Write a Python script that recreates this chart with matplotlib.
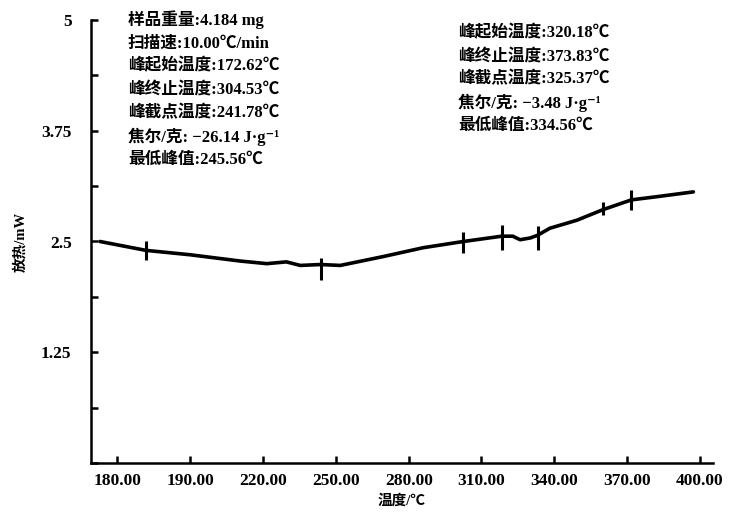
import matplotlib.pyplot as plt
from matplotlib.ticker import FixedLocator, MultipleLocator

plt.rcParams["font.family"] = ["Liberation Serif", "Noto Sans CJK SC", "DejaVu Sans"]

# x is the position along the (evenly spaced) temperature axis, one unit per labelled tick
x_labels = ["180.00", "190.00", "220.00", "250.00", "280.00", "310.00", "340.00", "370.00", "400.00"]
y_ticks = [1.25, 2.5, 3.75, 5]
y_tick_labels = ["1.25", "2.5", "3.75", "5"]

curve_x = [-0.24, 0.39, 1.00, 1.68, 2.05, 2.32, 2.51, 2.79, 3.06, 3.65, 4.20, 4.75,
           5.28, 5.43, 5.53, 5.67, 5.77, 5.94, 6.31, 6.67, 7.06, 7.45, 7.91]
curve_y = [2.50, 2.40, 2.35, 2.28, 2.25, 2.27, 2.23, 2.24, 2.23, 2.33, 2.43, 2.50,
           2.56, 2.56, 2.52, 2.54, 2.57, 2.65, 2.74, 2.86, 2.97, 3.01, 3.06]

# peak markers drawn across the curve (position, bottom, top in mW)
mark_x = [0.39, 2.79, 4.75, 5.28, 5.77, 6.67, 7.06]
mark_lo = [2.29, 2.07, 2.37, 2.40, 2.40, 2.80, 2.86]
mark_hi = [2.50, 2.31, 2.61, 2.69, 2.67, 2.95, 3.08]

left_notes = ["样品重量:4.184 mg", "扫描速:10.00℃/min", "峰起始温度:172.62℃",
              "峰终止温度:304.53℃", "峰截点温度:241.78℃",
              "焦尔/克: −26.14 J·g⁻¹", "最低峰值:245.56℃"]
right_notes = ["峰起始温度:320.18℃", "峰终止温度:373.83℃", "峰截点温度:325.37℃",
               "焦尔/克: −3.48 J·g⁻¹", "最低峰值:334.56℃"]

fig = plt.figure(figsize=(7.34, 5.12), dpi=100)
ax = fig.add_axes([91 / 734, 49 / 512, 622 / 734, 443 / 512])

ax.plot(curve_x, curve_y, color="black", lw=2.6, solid_capstyle="round")
ax.vlines(mark_x, mark_lo, mark_hi, color="black", lw=2.2)

ax.set_xlim(-0.364, 8.18)
ax.set_ylim(0, 5)
ax.spines["top"].set_visible(False)
ax.spines["right"].set_visible(False)
ax.spines["left"].set_linewidth(1.8)
ax.spines["bottom"].set_linewidth(1.8)

ax.xaxis.set_major_locator(FixedLocator(range(len(x_labels))))
ax.set_xticklabels(x_labels, fontweight="bold", fontsize=12.5)
ax.set_yticks(y_ticks)
ax.set_yticklabels(y_tick_labels, fontweight="bold", fontsize=12.5)
ax.yaxis.set_minor_locator(MultipleLocator(0.625))
ax.tick_params(axis="both", which="both", direction="in", width=1.8, length=5, pad=7)
ax.tick_params(axis="y", which="major", pad=14)

ax.set_xlabel("温度/℃", fontweight="heavy", fontsize=10.5, labelpad=4)
ax.set_ylabel("放热/mW", fontweight="heavy", fontsize=10.5, labelpad=10)

for i, s in enumerate(left_notes):
    fig.text(128 / 734, 1 - (20 + i * 23.3) / 512, s, fontsize=12, fontweight="heavy",
             va="center", ha="left")
for i, s in enumerate(right_notes):
    fig.text(458 / 734, 1 - (33 + i * 23.3) / 512, s, fontsize=12, fontweight="heavy",
             va="center", ha="left")

fig.savefig("out.png", dpi=100)
